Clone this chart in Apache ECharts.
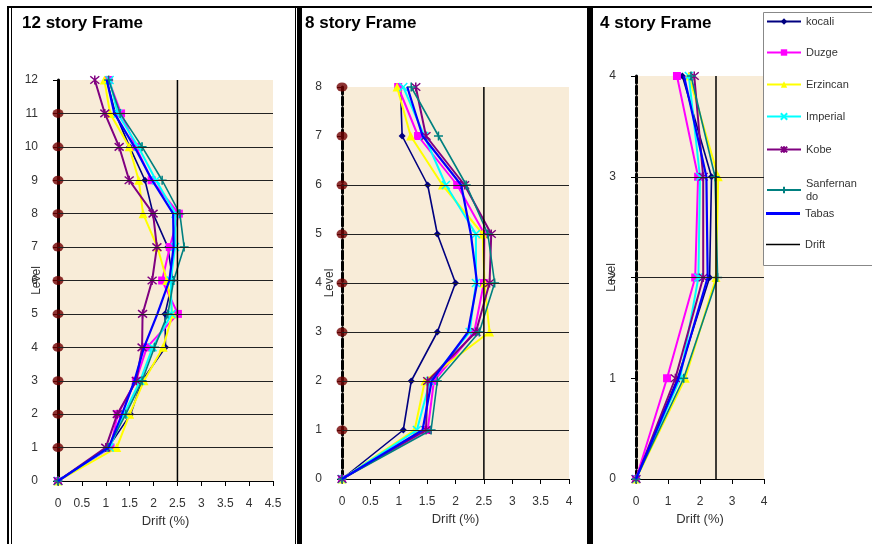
<!DOCTYPE html>
<html><head><meta charset="utf-8">
<script src="https://cdn.jsdelivr.net/npm/echarts@6/dist/echarts.min.js"></script>
<style>html,body{margin:0;padding:0;background:#fff}#c{width:872px;height:544px}</style>
</head><body><div id="c"></div>
<script>
// ---------- DATA ----------
const seriesNames = ['kocali','Duzge','Erzincan','Imperial','Kobe','Sanfernando','Tabas'];
const driftLimit = 2.5;

// 12 story frame
const levels12 = [0,1,2,3,4,5,6,7,8,9,10,11,12];
const kocali12      = [0,1.05,1.52,1.76,2.25,2.24,2.40,2.30,1.99,1.82,1.50,1.20,1.02];
const duzge12       = [0,1.10,1.25,1.63,1.86,2.51,2.18,2.34,2.53,1.96,1.63,1.32,1.06];
const erzincan12    = [0,1.23,1.50,1.80,2.20,2.40,2.28,2.08,1.78,1.69,1.49,1.09,0.97];
const imperial12    = [0,1.08,1.38,1.72,1.98,2.38,2.36,2.45,2.46,2.05,1.68,1.25,1.08];
const kobe12        = [0,1.00,1.24,1.64,1.76,1.77,1.97,2.07,1.99,1.49,1.28,0.98,0.77];
const sanfernando12 = [0,1.05,1.42,1.76,2.02,2.30,2.42,2.64,2.55,2.18,1.76,1.30,1.06];
const tabas12       = [0,1.06,1.34,1.60,1.80,2.08,2.33,2.42,2.41,1.97,1.60,1.18,1.02];
const gridLines12 = [1,2,3,4,5,6,7,8,9,10,11];
const axisDots12  = [1,2,3,4,5,6,7,8,9,10,11];

// 8 story frame
const levels8 = [0,1,2,3,4,5,6,7,8];
const kocali8      = [0,1.08,1.22,1.68,2.00,1.68,1.51,1.06,1.03];
const duzge8       = [0,1.51,1.62,2.33,2.50,2.51,2.03,1.34,0.99];
const erzincan8    = [0,1.28,1.46,2.60,2.51,2.48,1.77,1.21,0.97];
const imperial8    = [0,1.32,1.55,2.25,2.36,2.36,1.83,1.45,1.08];
const kobe8        = [0,1.48,1.51,2.36,2.60,2.63,2.16,1.48,1.30];
const sanfernando8 = [0,1.57,1.68,2.42,2.69,2.57,2.19,1.70,1.22];
const tabas8       = [0,1.42,1.58,2.22,2.38,2.27,2.10,1.42,1.15];
const gridLines8 = [1,2,3,4,5,6];
const axisDots8  = [1,2,3,4,5,6,7,8];

// 4 story frame
const levels4 = [0,1,2,3,4];
const kocali4      = [0,1.30,2.30,2.36,1.45];
const duzge4       = [0,0.97,1.85,1.94,1.28];
const erzincan4    = [0,1.54,2.50,2.57,1.65];
const imperial4    = [0,1.38,1.95,2.00,1.65];
const kobe4        = [0,1.23,2.10,2.10,1.82];
const sanfernando4 = [0,1.49,2.55,2.47,1.72];
const tabas4       = [0,1.33,2.24,2.20,1.50];
const gridLines4 = [2,3];
const axisDots4  = [];

// ---------- STYLE ----------
const XPATH = 'path://M0,0L10,10M10,0L0,10';
const STAR  = 'path://M0,0L10,10M10,0L0,10M5,-1L5,11';
const PLUS  = 'path://M5,0L5,10M0,5L10,5';
const styles = {
  kocali:      {color:'#000080', symbol:'diamond',  size:7, width:1.6},
  Duzge:       {color:'#FF00FF', symbol:'rect',     size:8, width:2},
  Erzincan:    {color:'#FFFF00', symbol:'triangle', size:9, width:2},
  Imperial:    {color:'#00FFFF', symbol:XPATH,      size:8, width:2, stroke:true},
  Kobe:        {color:'#800080', symbol:STAR,       size:9, width:2, stroke:true},
  Sanfernando: {color:'#008080', symbol:PLUS,       size:9, width:1.6, stroke:true},
  Tabas:       {color:'#0000FF', symbol:'none',     size:0, width:2.2}
};

const panels = [
  {title:'12 story Frame', levels:levels12, vals:[kocali12,duzge12,erzincan12,imperial12,kobe12,sanfernando12,tabas12],
   gridLines:gridLines12, dots:axisDots12, xMax:4.5, xInt:0.5, grid:{left:58, top:80, width:215, height:401},
   axisType:'solid', nameGap:15, titleLeft:22},
  {title:'8 story Frame', levels:levels8, vals:[kocali8,duzge8,erzincan8,imperial8,kobe8,sanfernando8,tabas8],
   gridLines:gridLines8, dots:axisDots8, xMax:4, xInt:0.5, grid:{left:342, top:87, width:227, height:392},
   axisType:[8,3], nameGap:6, titleLeft:305},
  {title:'4 story Frame', levels:levels4, vals:[kocali4,duzge4,erzincan4,imperial4,kobe4,sanfernando4,tabas4],
   gridLines:gridLines4, dots:axisDots4, xMax:4, xInt:1, grid:{left:636, top:76, width:128, height:403},
   axisType:[8,3], nameGap:18, titleLeft:600}
];

const FONT = '"Liberation Sans", Arial, sans-serif';
const grids = [], xAxes = [], yAxes = [], series = [], titles = [];

panels.forEach((p, gi) => {
  const maxLevel = p.levels[p.levels.length - 1];
  grids.push(Object.assign({show:true, backgroundColor:'#F8ECD8', borderWidth:0, containLabel:false}, p.grid));
  titles.push({text:p.title, left:p.titleLeft, top:15, padding:0,
    textStyle:{fontFamily:FONT, fontSize:17, fontWeight:'bold', color:'#000'}});
  xAxes.push({
    gridIndex:gi, type:'value', min:0, max:p.xMax, interval:p.xInt,
    axisLine:{show:true, onZero:false, lineStyle:{color:'#000', width:1}},
    axisTick:{show:true, length:5, lineStyle:{color:'#000'}},
    axisLabel:{margin:17, color:'#333', fontSize:12, fontFamily:FONT},
    splitLine:{show:false},
    name:'Drift (%)', nameLocation:'middle', nameGap:34, nameMoveOverlap:false,
    nameTextStyle:{color:'#333', fontSize:13, fontFamily:FONT}
  });
  yAxes.push({
    gridIndex:gi, type:'value', min:0, max:maxLevel, interval:1,
    axisLine:{show:true, onZero:false, lineStyle:{color:'#000', width:3, type:p.axisType}},
    axisTick:{show:true, length:5, lineStyle:{color:'#000'}},
    axisLabel:{margin:20, color:'#333', fontSize:12, fontFamily:FONT},
    splitLine:{show:false},
    name:'Level', nameLocation:'middle', nameRotate:90, nameGap:p.nameGap, nameMoveOverlap:false,
    nameTextStyle:{color:'#333', fontSize:12, fontFamily:FONT}
  });
  seriesNames.forEach((nm, si) => {
    const st = styles[nm];
    const s = {
      name:nm, type:'line', xAxisIndex:gi, yAxisIndex:gi,
      data:p.levels.map((lv, i) => [p.vals[si][i], lv]),
      symbol:st.symbol, symbolSize:st.size, clip:false,
      lineStyle:{color:st.color, width:st.width},
      itemStyle:st.stroke ? {color:st.color, borderColor:st.color, borderWidth:1.5} : {color:st.color, borderWidth:0},
      animation:false, z:3 + si * 0.01
    };
    if (si === 0) {
      s.markLine = {
        silent:true, symbol:['none','none'], label:{show:false}, animation:false,
        lineStyle:{color:'#222', width:1, type:'solid'},
        data:p.gridLines.map(v => ({yAxis:v}))
      };
    }
    series.push(s);
  });
  series.push({
    name:'Drift', type:'line', xAxisIndex:gi, yAxisIndex:gi,
    data:[[driftLimit, 0], [driftLimit, maxLevel]],
    symbol:'none', lineStyle:{color:'#000', width:1.5}, itemStyle:{color:'#000'},
    animation:false, z:4
  });
  if (p.dots.length) {
    series.push({
      name:'axisDots', type:'scatter', xAxisIndex:gi, yAxisIndex:gi,
      data:p.dots.map(lv => [0, lv]), symbol:'circle', symbolSize:[11,9],
      itemStyle:{color:'#700000'}, clip:false, animation:false, silent:true, z:2.5
    });
  }
});

// legends, one per entry
const legendNames = seriesNames.concat(['Drift']);
const legendY = [22, 53, 85, 117, 150, 184, 214, 245];
const lineOnly = {Tabas:{h:3, color:'#0000FF'}, Drift:{h:1.5, color:'#000'}};
const legends = legendNames.map((nm, i) => {
  const lo = lineOnly[nm];
  return {
    data:[lo ? {name:nm, icon:'rect', itemStyle:{color:lo.color}} : nm],
    left:766, top:legendY[i] - 7, padding:0, itemWidth:34, itemHeight:lo ? lo.h : 8, itemGap:0,
    textStyle:{color:'#333', fontSize:11, fontFamily:FONT, lineHeight:13},
    formatter: n => n === 'Sanfernando' ? 'Sanfernan\ndo' : n,
    selectedMode:false
  };
});

const chart = echarts.init(document.getElementById('c'), null, {renderer:'canvas'});
chart.setOption({
  backgroundColor:'#fff',
  animation:false,
  title:titles,
  grid:grids, xAxis:xAxes, yAxis:yAxes, series:series,
  legend:legends,
  graphic:[
    {type:'rect', z:10, shape:{x:7, y:6, width:865, height:2}, style:{fill:'#000'}},
    {type:'rect', z:10, shape:{x:7, y:6, width:2, height:538}, style:{fill:'#000'}},
    {type:'rect', z:10, shape:{x:11, y:8, width:1, height:536}, style:{fill:'#000'}},
    {type:'rect', z:10, shape:{x:295, y:8, width:1, height:536}, style:{fill:'#000'}},
    {type:'rect', z:10, shape:{x:297, y:6, width:5, height:538}, style:{fill:'#000'}},
    {type:'rect', z:10, shape:{x:587, y:6, width:6, height:538}, style:{fill:'#000'}},
    {type:'rect', z:3.5, shape:{x:763.5, y:12.5, width:120, height:253}, style:{fill:'#fff', stroke:'#888', lineWidth:1}}
  ]
});
</script></body></html>
